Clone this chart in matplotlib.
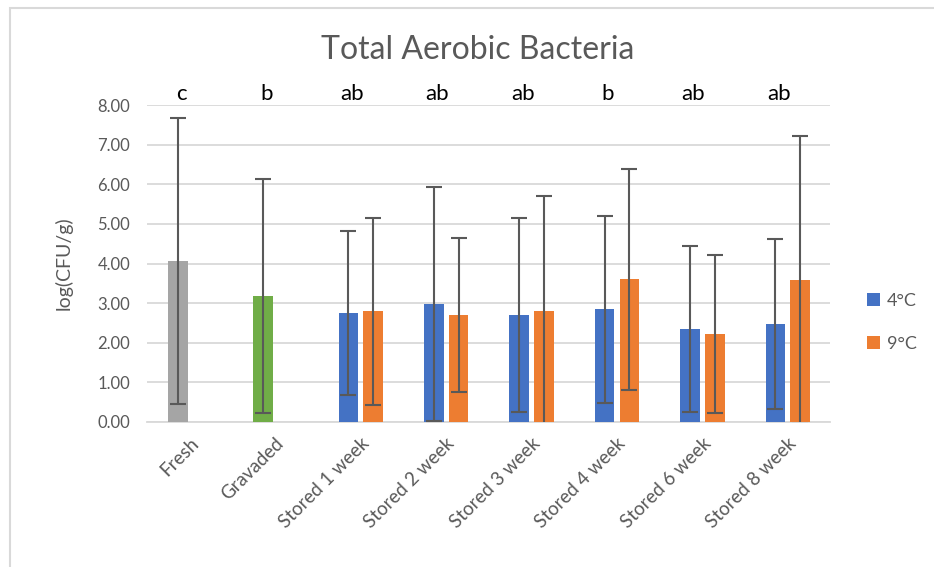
import numpy as np
import matplotlib.pyplot as plt
from matplotlib.patches import Rectangle

plt.rcParams['font.family'] = ['Lato', 'DejaVu Sans']

# 데이터
categories = ['Fresh', 'Gravaded', 'Stored 1 week', 'Stored 2 week', 'Stored 3 week',
              'Stored 4 week', 'Stored 6 week', 'Stored 8 week']
fresh_mean, fresh_sd = 4.06, 3.60
grav_mean, grav_sd = 3.17, 2.95
c4_mean = [2.75, 2.98, 2.70, 2.85, 2.34, 2.47]
c4_sd = [2.07, 2.96, 2.46, 2.36, 2.10, 2.14]
c9_mean = [2.79, 2.70, 2.79, 3.60, 2.22, 3.59]
c9_sd = [2.37, 1.95, 2.92, 2.78, 2.00, 3.63]
letters = ['c', 'b', 'ab', 'ab', 'ab', 'b', 'ab', 'ab']

blue, orange, grey, green = '#4472C4', '#ED7D31', '#A5A5A5', '#70AD47'
txt = '#595959'

fig = plt.figure(figsize=(9.34, 5.67), dpi=100)
ax = fig.add_axes([147/934, 1-422/567, (830-147)/934, (422-105)/567])

x = np.arange(len(categories))
w = 0.23
off = 0.14
ekw = dict(ecolor='#595959', elinewidth=1.5, capsize=6, capthick=1.5)

ax.bar(x[0]-off, fresh_mean, w, color=grey, yerr=fresh_sd, error_kw=ekw, zorder=3)
ax.bar(x[1]-off, grav_mean, w, color=green, yerr=grav_sd, error_kw=ekw, zorder=3)
ax.bar(x[2:]-off, c4_mean, w, color=blue, yerr=c4_sd, error_kw=ekw, zorder=3, label='4°C')
ax.bar(x[2:]+off+0.01, c9_mean, w, color=orange, yerr=c9_sd, error_kw=ekw, zorder=3, label='9°C')

ax.set_ylim(0, 8)
ax.set_xlim(-0.5, len(categories)-0.5)
ax.set_yticks(np.arange(0, 9, 1))
ax.set_yticklabels(['%.2f' % v for v in np.arange(0, 9, 1)], color=txt, fontsize=12)
ax.yaxis.grid(True, color='#d9d9d9', lw=1.3, zorder=0)
ax.tick_params(length=0, pad=12)
ax.tick_params(axis='x', pad=9)
for s in ['top', 'right', 'left']:
    ax.spines[s].set_visible(False)
ax.spines['bottom'].set_color('#d9d9d9')
ax.spines['bottom'].set_linewidth(1.3)

ax.set_xticks(x)
ax.set_xticklabels(categories, rotation=45, ha='right', rotation_mode='anchor',
                   color=txt, fontsize=13.5)
ax.set_ylabel('log(CFU/g)', color=txt, fontsize=14, labelpad=18)

for i, l in enumerate(letters):
    ax.text(i - 0.1, 8.02, l, ha='center', va='bottom', fontsize=16, color='black')

fig.text(478/934, 1-50/567, 'Total Aerobic Bacteria', ha='center', va='center',
         fontsize=23, color=txt)

ax.legend(loc='center left', bbox_to_anchor=(1.03, 0.315), frameon=False,
          fontsize=13, labelcolor=txt, handlelength=0.75, handleheight=0.75,
          labelspacing=1.5, handletextpad=0.35)

fig.patches.append(Rectangle((10/934, -0.1), 2, 1.1 - 8/567, transform=fig.transFigure,
                             fill=False, edgecolor='#d9d9d9', lw=1.5))

fig.savefig('out.png', dpi=100)
